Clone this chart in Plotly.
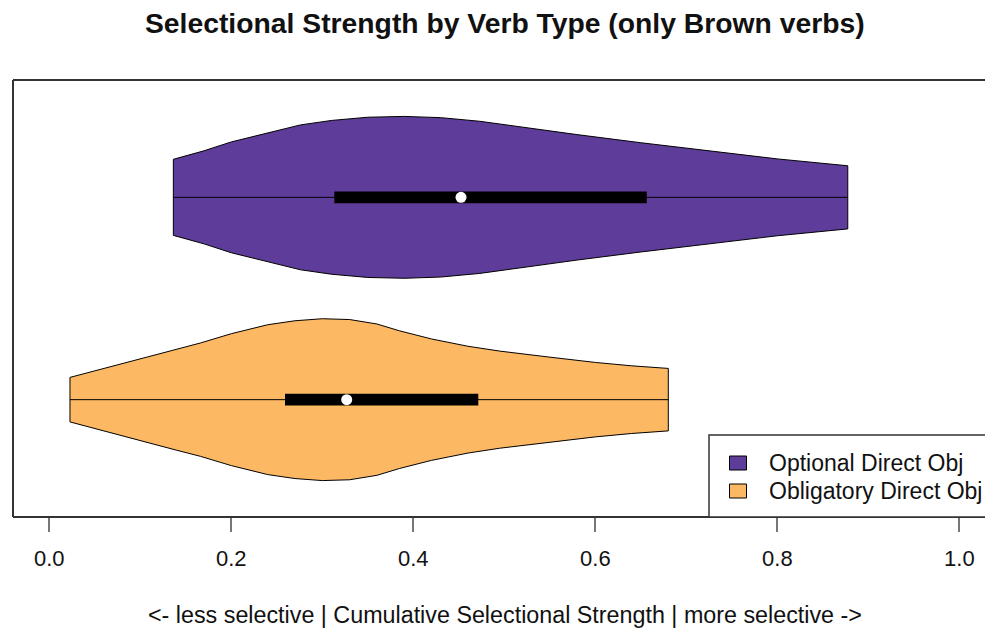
import plotly.graph_objects as go

# ---- data -------------------------------------------------------------
groups = ["Obligatory Direct Obj", "Optional Direct Obj"]
positions = [1, 2]
fill_colors = ["#FDB863", "#5E3C99"]

# kernel density outline: strength value -> density relative to the group's peak
obl_x = [0.0227, 0.06, 0.10, 0.14, 0.166, 0.20, 0.24, 0.27, 0.30, 0.33,
         0.36, 0.385, 0.42, 0.46, 0.495, 0.55, 0.60, 0.64, 0.6802]
obl_d = [0.275, 0.386, 0.506, 0.625, 0.70, 0.815, 0.926, 0.975, 1.0, 0.99,
         0.935, 0.85, 0.75, 0.66, 0.60, 0.525, 0.46, 0.418, 0.386]

opt_x = [0.1363, 0.17, 0.20, 0.24, 0.276, 0.31, 0.35, 0.39, 0.43, 0.473,
         0.52, 0.58, 0.65, 0.72, 0.80, 0.8774]
opt_d = [0.47, 0.575, 0.685, 0.80, 0.895, 0.95, 0.99, 1.0, 0.985, 0.94,
         0.865, 0.775, 0.675, 0.58, 0.475, 0.39]

profiles_x = [obl_x, opt_x]
profiles_d = [obl_d, opt_d]

# box statistics (min / max are the ends of each outline)
box_q1 = [0.259, 0.3132]
box_median = [0.3268, 0.4524]
box_q3 = [0.4714, 0.6565]

tick_vals = [0.0, 0.2, 0.4, 0.6, 0.8, 1.0]
tick_text = ["0.0", "0.2", "0.4", "0.6", "0.8", "1.0"]

title_text = "Selectional Strength by Verb Type (only Brown verbs)"
x_title = "<- less selective | Cumulative Selectional Strength | more selective ->"
legend_order = [1, 0]  # Optional first, then Obligatory

# ---- geometry ---------------------------------------------------------
W, H = 985, 629
ML, MR, MT, MB = 13, 0, 80, 112
PW, PH = W - ML - MR, H - MT - MB
X_RANGE = [-0.0399, 1.0282]
Y_RANGE = [0.42, 2.58]
HALF_MAX = 0.4      # widest half-width of a violin, in category units
BAR_HALF = 0.029    # half-height of the interquartile bar
FONT = "Liberation Sans, Arial, Helvetica, sans-serif"


def px_x(p):
    return (p - ML) / PW


def px_y(p):
    return (MT + PH - p) / PH


fig = go.Figure()
shapes = []

for xs, ds, pos, col, q1, med, q3 in zip(profiles_x, profiles_d, positions,
                                          fill_colors, box_q1, box_median, box_q3):
    top = [pos + HALF_MAX * d for d in ds]
    bot = [pos - HALF_MAX * d for d in ds]
    fig.add_trace(go.Scatter(
        x=xs + xs[::-1] + [xs[0]],
        y=top + bot[::-1] + [top[0]],
        mode="lines", fill="toself", fillcolor=col,
        line=dict(color="black", width=1), hoverinfo="skip", showlegend=False))
    # whisker line across the full range
    fig.add_trace(go.Scatter(
        x=[xs[0], xs[-1]], y=[pos, pos], mode="lines",
        line=dict(color="black", width=1), hoverinfo="skip", showlegend=False))
    # interquartile bar
    fig.add_trace(go.Scatter(
        x=[q1, q3, q3, q1, q1],
        y=[pos - BAR_HALF, pos - BAR_HALF, pos + BAR_HALF, pos + BAR_HALF, pos - BAR_HALF],
        mode="lines", fill="toself", fillcolor="black",
        line=dict(color="black", width=0), hoverinfo="skip", showlegend=False))

# median points
fig.add_trace(go.Scatter(
    x=box_median, y=positions, mode="markers",
    marker=dict(color="white", size=11, line=dict(width=0)),
    hoverinfo="skip", showlegend=False))

# plot frame (left, top, bottom; the right side runs off the page)
frame = dict(color="#333333", width=2)
shapes += [
    dict(type="line", xref="paper", yref="paper", x0=0, x1=1.05, y0=1, y1=1, line=frame),
    dict(type="line", xref="paper", yref="paper", x0=0, x1=1.05, y0=0, y1=0, line=frame),
    dict(type="line", xref="paper", yref="paper", x0=0, x1=0, y0=0, y1=1, line=frame),
]

# legend box, anchored at the bottom-right of the plot region
shapes.append(dict(type="rect", xref="paper", yref="paper",
                   x0=px_x(709), x1=px_x(1010), y0=px_y(517), y1=px_y(435),
                   fillcolor="white", line=dict(color="#333333", width=1.5),
                   layer="above"))

annotations = []
row_centers = [463, 491]
for row, gi in enumerate(legend_order):
    yc = row_centers[row]
    shapes.append(dict(type="rect", xref="paper", yref="paper",
                       x0=px_x(729.5), x1=px_x(746.5),
                       y0=px_y(yc + 7), y1=px_y(yc - 7),
                       fillcolor=fill_colors[gi], line=dict(color="black", width=1),
                       layer="above"))
    annotations.append(dict(xref="paper", yref="paper", x=px_x(767), y=px_y(yc),
                            text=groups[gi], showarrow=False, xanchor="left",
                            yanchor="middle", font=dict(family=FONT, size=23, color="#111111")))

plot_center = px_x((ML + 996) / 2)
annotations.append(dict(xref="paper", yref="paper", x=plot_center, y=px_y(23),
                        text="<b>" + title_text + "</b>", showarrow=False,
                        xanchor="center", yanchor="middle",
                        font=dict(family=FONT, size=28.3, color="#111111")))
annotations.append(dict(xref="paper", yref="paper", x=plot_center, y=px_y(615),
                        text=x_title, showarrow=False,
                        xanchor="center", yanchor="middle",
                        font=dict(family=FONT, size=23.3, color="#111111")))

fig.update_layout(
    width=W, height=H,
    margin=dict(l=ML, r=MR, t=MT, b=MB, pad=0),
    paper_bgcolor="white", plot_bgcolor="white",
    showlegend=False,
    shapes=shapes, annotations=annotations,
    xaxis=dict(range=X_RANGE, tickvals=tick_vals, ticktext=tick_text,
               ticks="outside", ticklen=14, tickwidth=2, tickcolor="#777777",
               ticklabelstandoff=8,
               showgrid=False, zeroline=False, showline=False,
               tickfont=dict(family=FONT, size=22, color="#111111")),
    yaxis=dict(range=Y_RANGE, visible=False, showgrid=False, zeroline=False),
)

fig.write_html("out.html", config={"displayModeBar": False})
